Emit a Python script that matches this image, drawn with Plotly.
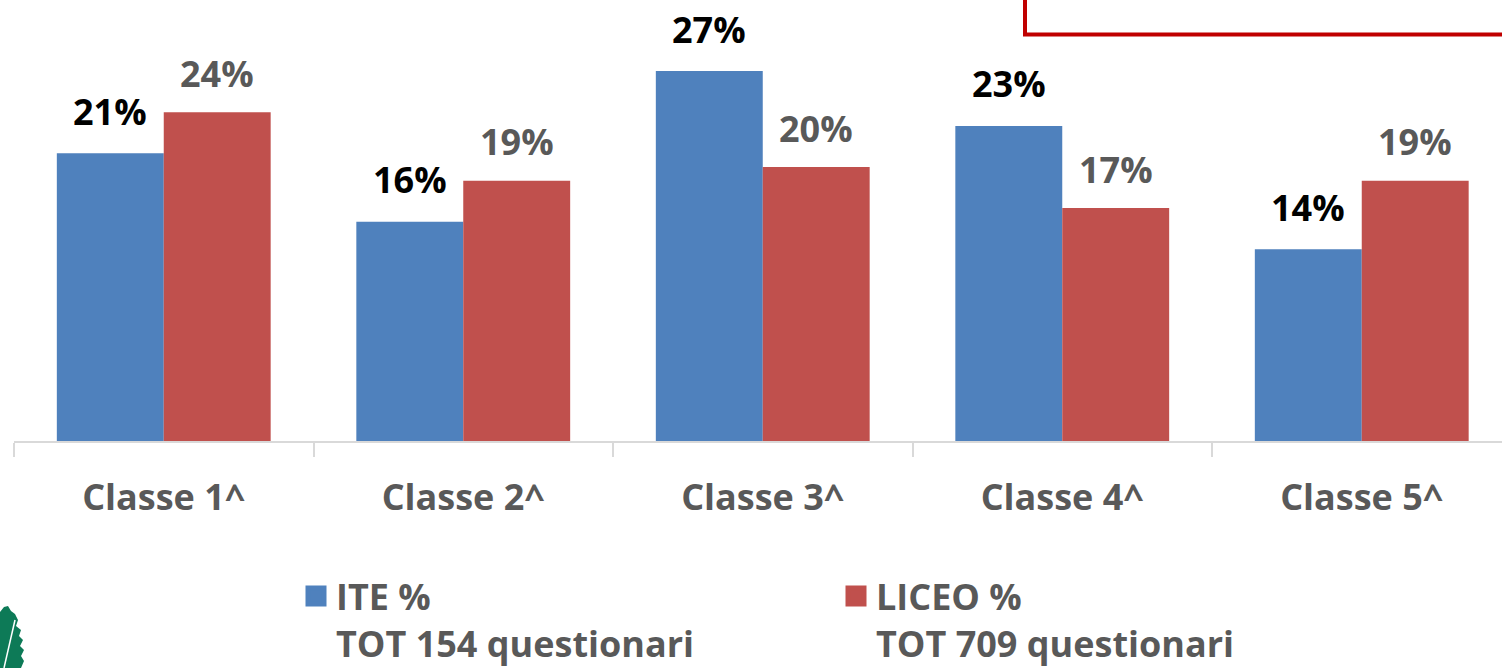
import plotly.graph_objects as go

# Survey share per class year, two school types
classi = ["Classe 1^", "Classe 2^", "Classe 3^", "Classe 4^", "Classe 5^"]
ite_pct = [21, 16, 27, 23, 14]
liceo_pct = [24, 19, 20, 17, 19]
ite_name = "ITE %<br>TOT 154 questionari"
liceo_name = "LICEO %<br>TOT 709 questionari"

BLUE = "#4f81bd"
RED = "#c0504d"
GREY_TXT = "#595959"
AXIS = "#d9d9d9"
FONT = "Open Sans"

W, H = 1502, 668
ML, MT, MB = 14, 0, 227
PW, PH = W - ML, H - MT - MB
CAT_PX = 299.5           # pixel width of one category slot
PX_PER_UNIT = 13.7       # vertical pixels per percentage point


def px_to_paper(px, py):
    return (px - ML) / PW, (H - MB - py) / PH


fig = go.Figure()
fig.add_trace(go.Bar(x=classi, y=ite_pct, marker=dict(color=BLUE, line=dict(width=0)),
                     showlegend=False))
fig.add_trace(go.Bar(x=classi, y=liceo_pct, marker=dict(color=RED, line=dict(width=0)),
                     showlegend=False))

# legend entries with larger square swatches
for name, col in [(ite_name, BLUE), (liceo_name, RED)]:
    fig.add_trace(go.Scatter(x=[None], y=[None], mode="markers", name=name,
                             marker=dict(symbol="square", size=16, color=col,
                                         line=dict(color=col, width=5))))

# value labels above each bar
half = (1 - 0.286) / 4
annotations = []
for i, (a, b) in enumerate(zip(ite_pct, liceo_pct)):
    annotations.append(dict(x=i - half, y=a, xref="x", yref="y", text=f"{a}%",
                            showarrow=False, yanchor="middle", yshift=42,
                            font=dict(family=FONT, size=36, color="#000000", weight="bold")))
    annotations.append(dict(x=i + half, y=b, xref="x", yref="y", text=f"{b}%",
                            showarrow=False, yanchor="middle", yshift=39,
                            font=dict(family=FONT, size=36, color=GREY_TXT, weight="bold")))

shapes = []
# framed note box at top right
bx0, by1 = px_to_paper(1025, 34.5)
bx1, by0 = px_to_paper(1530, -30)
shapes.append(dict(type="rect", xref="paper", yref="paper", x0=bx0, x1=bx1, y0=by1, y1=by0,
                   line=dict(color="#c00000", width=4), fillcolor="rgba(0,0,0,0)", layer="above"))

# oak-leaf emblem at lower left
leaf_pts = [(0, 612), (4, 607), (8, 606), (11, 611), (15, 614), (18, 620), (16, 626),
            (21, 630), (19, 636), (23, 640), (20, 646), (24, 650), (21, 656), (24, 661),
            (21, 668), (0, 668)]
path = "M " + " L ".join(f"{px_to_paper(x, y)[0]},{px_to_paper(x, y)[1]}" for x, y in leaf_pts) + " Z"
shapes.append(dict(type="path", xref="paper", yref="paper", path=path,
                   fillcolor="#0d7a57", line=dict(width=0), layer="above"))
v0 = px_to_paper(4, 668)
v1 = px_to_paper(15, 620)
shapes.append(dict(type="line", xref="paper", yref="paper", x0=v0[0], y0=v0[1], x1=v1[0], y1=v1[1],
                   line=dict(color="white", width=1.5), layer="above"))

fig.update_layout(
    width=W, height=H,
    margin=dict(l=ML, r=0, t=MT, b=MB, pad=0, autoexpand=False),
    paper_bgcolor="white", plot_bgcolor="white",
    barmode="group", bargap=0.286, bargroupgap=0,
    font=dict(family=FONT, size=36, color=GREY_TXT),
    xaxis=dict(
        type="category", range=[-0.5, -0.5 + PW / CAT_PX],
        showline=True, linecolor=AXIS, linewidth=2,
        ticks="outside", tickson="boundaries", ticklen=14, tickcolor=AXIS, tickwidth=2,
        ticklabelstandoff=24,
        tickfont=dict(family=FONT, size=36, color=GREY_TXT, weight="bold"),
        showgrid=False, zeroline=False, fixedrange=True,
    ),
    yaxis=dict(range=[0, PH / PX_PER_UNIT], visible=False, showgrid=False, zeroline=False),
    legend=dict(
        orientation="h", x=(296 - ML) / PW, xanchor="left", y=px_to_paper(0, 566)[1], yanchor="top",
        entrywidth=495, valign="top", bgcolor="rgba(0,0,0,0)",
        font=dict(family=FONT, size=36, color=GREY_TXT, weight="bold"),
        itemsizing="trace", traceorder="normal",
    ),
    annotations=annotations,
    shapes=shapes,
)

fig.write_html("out.html")
